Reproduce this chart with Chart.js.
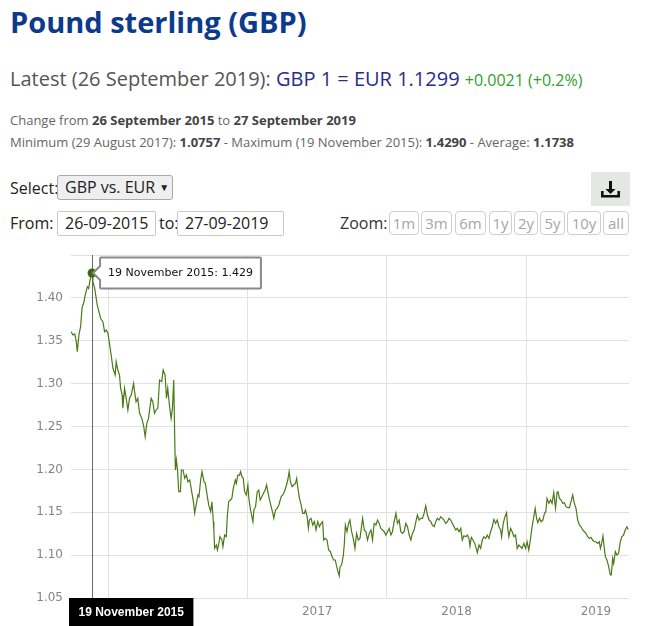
<!DOCTYPE html>
<html>
<head>
<meta charset="utf-8">
<title>Pound sterling (GBP)</title>
<script src="https://cdn.jsdelivr.net/npm/chart.js@4.4.1/dist/chart.umd.min.js"></script>
<style>
    body { margin: 0; width: 647px; height: 626px; overflow: hidden; background: #fff; font-family: "Open Sans", sans-serif; position: relative; }
    .abs { position: absolute; white-space: nowrap; }
    #title { left: 10px; top: 0; font-size: 29px; font-weight: 700; color: #0c3a8d; line-height: 44px; }
    #latest { left: 10px; top: 64px; font-size: 20px; color: #555; line-height: 30px; }
    #latest .pair { color: #2c2c86; }
    #latest .chg { color: #2fa12f; font-size: 16px; }
    .info { left: 10px; font-size: 13px; color: #666; line-height: 18px; }
    .info b { color: #444; }
    .lbl { font-size: 16px; color: #222; line-height: 24px; }
    .box { box-sizing: border-box; border: 1px solid #c8c8c8; border-radius: 2px; font-size: 16px; color: #222; line-height: 22px; padding-left: 7px; }
    #select { left: 57px; top: 175px; width: 116px; height: 25px; background: #efefef; border-color: #a9a9a9; border-radius: 3px; }
    #select span { font-size: 10px; position: relative; top: -2px; margin-left: 4px; }
    .zb { box-sizing: border-box; top: 211px; height: 24px; border: 1px solid #cfcfcf; border-radius: 4px; font-size: 15px; color: #a5a5a5; line-height: 22px; text-align: center; }
    #dl { left: 591px; top: 172px; width: 39px; height: 34px; background: #e3e8e3; }
    #chart-wrap { position: absolute; left: 0; top: 250px; width: 647px; height: 376px; }
</style>
</head>
<body>
<div class="abs" id="title">Pound sterling (GBP)</div>
<div class="abs" id="latest">Latest (26 September 2019): <span class="pair">GBP 1 = EUR 1.1299</span> <span class="chg">+0.0021 (+0.2%)</span></div>
<div class="abs info" style="top:111px">Change from <b>26 September 2015</b> to <b>27 September 2019</b></div>
<div class="abs info" style="top:133px">Minimum (29 August 2017): <b>1.0757</b> - Maximum (19 November 2015): <b>1.4290</b> - Average: <b>1.1738</b></div>

<div class="abs lbl" style="left:10px;top:176px">Select:</div>
<div class="abs box" id="select">GBP vs. EUR<span>&#9660;</span></div>
<div class="abs" id="dl">
    <svg width="39" height="34" viewBox="0 0 39 34">
        <path d="M18 9h3v8h3.5l-5 5-5-5H18z" fill="#111"/>
        <path d="M10 19h2.6v4h13.8v-4H29v6.6H10z" fill="#111"/>
    </svg>
</div>

<div class="abs lbl" style="left:10px;top:211px">From:</div>
<div class="abs box" style="left:57px;top:211px;width:99px;height:25px">26-09-2015</div>
<div class="abs lbl" style="left:159px;top:211px">to:</div>
<div class="abs box" style="left:177px;top:211px;width:107px;height:25px">27-09-2019</div>

<div class="abs lbl" style="left:340px;top:211px;color:#333">Zoom:</div>
<div class="abs zb" style="left:389px;width:30px">1m</div>
<div class="abs zb" style="left:421px;width:31px">3m</div>
<div class="abs zb" style="left:455px;width:31px">6m</div>
<div class="abs zb" style="left:489px;width:23px">1y</div>
<div class="abs zb" style="left:514px;width:24px">2y</div>
<div class="abs zb" style="left:540px;width:25px">5y</div>
<div class="abs zb" style="left:567px;width:34px">10y</div>
<div class="abs zb" style="left:603px;width:26px">all</div>

<div id="chart-wrap"><canvas id="rateChart"></canvas></div>

<script>
// decimal year of each sample
const yearPos = [
    2015.734, 2015.748, 2015.761, 2015.772, 2015.779, 2015.791, 2015.803, 2015.813, 2015.827, 2015.836,
    2015.851, 2015.861, 2015.870, 2015.885, 2015.891, 2015.904, 2015.922, 2015.934, 2015.947, 2015.963,
    2015.975, 2015.987, 2015.999, 2016.008, 2016.022, 2016.035, 2016.051, 2016.058, 2016.070, 2016.082,
    2016.090, 2016.101, 2016.106, 2016.118, 2016.130, 2016.142, 2016.154, 2016.166, 2016.183, 2016.190,
    2016.201, 2016.213, 2016.226, 2016.242, 2016.256, 2016.266, 2016.278, 2016.290, 2016.309, 2016.321,
    2016.333, 2016.344, 2016.357, 2016.369, 2016.385, 2016.395, 2016.409, 2016.419, 2016.428, 2016.440,
    2016.452, 2016.462, 2016.471, 2016.478, 2016.483, 2016.490, 2016.498, 2016.507, 2016.519, 2016.526,
    2016.538, 2016.550, 2016.562, 2016.573, 2016.586, 2016.598, 2016.614, 2016.621, 2016.634, 2016.645,
    2016.652, 2016.664, 2016.674, 2016.688, 2016.698, 2016.712, 2016.722, 2016.736, 2016.745, 2016.755,
    2016.759, 2016.764, 2016.777, 2016.784, 2016.793, 2016.802, 2016.817, 2016.824, 2016.836, 2016.848,
    2016.855, 2016.865, 2016.877, 2016.888, 2016.898, 2016.913, 2016.920, 2016.931, 2016.943, 2016.951,
    2016.960, 2016.970, 2016.979, 2016.991, 2017.003, 2017.010, 2017.022, 2017.039, 2017.046, 2017.058,
    2017.070, 2017.081, 2017.091, 2017.103, 2017.115, 2017.127, 2017.137, 2017.146, 2017.158, 2017.170,
    2017.182, 2017.189, 2017.201, 2017.213, 2017.225, 2017.242, 2017.253, 2017.265, 2017.280, 2017.289,
    2017.299, 2017.308, 2017.320, 2017.332, 2017.344, 2017.353, 2017.360, 2017.373, 2017.385, 2017.396,
    2017.408, 2017.416, 2017.428, 2017.437, 2017.444, 2017.456, 2017.468, 2017.480, 2017.492, 2017.504,
    2017.516, 2017.528, 2017.539, 2017.547, 2017.559, 2017.571, 2017.582, 2017.595, 2017.607, 2017.618,
    2017.630, 2017.640, 2017.658, 2017.664, 2017.675, 2017.688, 2017.695, 2017.702, 2017.714, 2017.725,
    2017.735, 2017.747, 2017.759, 2017.771, 2017.783, 2017.795, 2017.807, 2017.818, 2017.826, 2017.838,
    2017.850, 2017.861, 2017.874, 2017.886, 2017.897, 2017.909, 2017.922, 2017.933, 2017.945, 2017.957,
    2017.969, 2017.981, 2017.993, 2018.005, 2018.017, 2018.029, 2018.040, 2018.052, 2018.065, 2018.076,
    2018.088, 2018.100, 2018.112, 2018.124, 2018.136, 2018.148, 2018.160, 2018.172, 2018.183, 2018.196,
    2018.208, 2018.219, 2018.231, 2018.243, 2018.255, 2018.267, 2018.279, 2018.291, 2018.303, 2018.315,
    2018.326, 2018.339, 2018.351, 2018.362, 2018.374, 2018.387, 2018.398, 2018.410, 2018.422, 2018.434,
    2018.446, 2018.458, 2018.470, 2018.482, 2018.494, 2018.505, 2018.518, 2018.530, 2018.541, 2018.553,
    2018.566, 2018.577, 2018.589, 2018.596, 2018.606, 2018.618, 2018.630, 2018.641, 2018.649, 2018.661,
    2018.673, 2018.684, 2018.696, 2018.709, 2018.720, 2018.732, 2018.744, 2018.756, 2018.768, 2018.780,
    2018.792, 2018.804, 2018.816, 2018.823, 2018.835, 2018.847, 2018.859, 2018.866, 2018.875, 2018.888,
    2018.899, 2018.911, 2018.923, 2018.935, 2018.947, 2018.959, 2018.970, 2018.983, 2018.995, 2019.006,
    2019.018, 2019.031, 2019.042, 2019.054, 2019.064, 2019.074, 2019.083, 2019.095, 2019.106, 2019.119,
    2019.131, 2019.140, 2019.149, 2019.162, 2019.174, 2019.185, 2019.197, 2019.210, 2019.221, 2019.228,
    2019.238, 2019.250, 2019.262, 2019.274, 2019.285, 2019.298, 2019.310, 2019.321, 2019.333, 2019.345,
    2019.357, 2019.369, 2019.381, 2019.393, 2019.405, 2019.417, 2019.428, 2019.441, 2019.453, 2019.464,
    2019.476, 2019.489, 2019.500, 2019.512, 2019.524, 2019.532, 2019.541, 2019.550, 2019.560, 2019.567,
    2019.579, 2019.591, 2019.603, 2019.610, 2019.620, 2019.627, 2019.639, 2019.650, 2019.662, 2019.675,
    2019.686, 2019.698, 2019.710, 2019.722, 2019.732
];

// GBP -> EUR
const rates = [
    1.3606, 1.3567, 1.3580, 1.3490, 1.3372, 1.3570, 1.3664, 1.3880, 1.3955, 1.4033,
    1.4130, 1.4110, 1.4208, 1.4290, 1.4190, 1.4110, 1.3917, 1.3839, 1.3760, 1.3720,
    1.3606, 1.3625, 1.3587, 1.3490, 1.3334, 1.3179, 1.3100, 1.3256, 1.3159, 1.3100,
    1.2945, 1.2867, 1.2712, 1.2945, 1.2829, 1.2692, 1.2829, 1.2867, 1.3004, 1.2906,
    1.2789, 1.2829, 1.2654, 1.2595, 1.2498, 1.2381, 1.2537, 1.2595, 1.2829, 1.2789,
    1.2654, 1.2692, 1.2712, 1.3042, 1.3023, 1.3159, 1.3100, 1.2829, 1.2945, 1.2751,
    1.2595, 1.2712, 1.3042, 1.2381, 1.1993, 1.2110, 1.1993, 1.1740, 1.1740, 1.1993,
    1.1993, 1.1896, 1.1934, 1.1856, 1.1876, 1.1759, 1.1604, 1.1488, 1.1604, 1.1701,
    1.1682, 1.1876, 1.1973, 1.1856, 1.1837, 1.1682, 1.1585, 1.1507, 1.1623, 1.1390,
    1.1293, 1.1080, 1.1118, 1.1060, 1.1118, 1.1215, 1.1176, 1.1099, 1.1235, 1.1215,
    1.1448, 1.1623, 1.1643, 1.1662, 1.1779, 1.1876, 1.1837, 1.1934, 1.1934, 1.1973,
    1.1915, 1.1896, 1.1740, 1.1701, 1.1818, 1.1662, 1.1526, 1.1390, 1.1526, 1.1565,
    1.1740, 1.1759, 1.1643, 1.1682, 1.1721, 1.1759, 1.1818, 1.1740, 1.1643, 1.1565,
    1.1488, 1.1430, 1.1526, 1.1546, 1.1585, 1.1682, 1.1701, 1.1740, 1.1818, 1.1876,
    1.1973, 1.1856, 1.1798, 1.1818, 1.1837, 1.1896, 1.1798, 1.1662, 1.1585, 1.1488,
    1.1488, 1.1526, 1.1448, 1.1312, 1.1409, 1.1429, 1.1351, 1.1390, 1.1293, 1.1390,
    1.1331, 1.1370, 1.1390, 1.1176, 1.1195, 1.1176, 1.1059, 1.1040, 1.0982, 1.0943,
    1.0943, 1.0865, 1.0757, 1.0865, 1.0884, 1.1001, 1.1137, 1.1351, 1.1273, 1.1370,
    1.1409, 1.1273, 1.1195, 1.1079, 1.1254, 1.1176, 1.1195, 1.1331, 1.1429, 1.1293,
    1.1273, 1.1176, 1.1254, 1.1293, 1.1176, 1.1370, 1.1351, 1.1409, 1.1370, 1.1312,
    1.1293, 1.1273, 1.1234, 1.1273, 1.1312, 1.1234, 1.1273, 1.1390, 1.1487, 1.1370,
    1.1409, 1.1273, 1.1254, 1.1273, 1.1370, 1.1331, 1.1234, 1.1176, 1.1254, 1.1293,
    1.1390, 1.1468, 1.1409, 1.1429, 1.1429, 1.1487, 1.1576, 1.1468, 1.1409, 1.1390,
    1.1351, 1.1331, 1.1390, 1.1429, 1.1409, 1.1448, 1.1429, 1.1409, 1.1370, 1.1390,
    1.1429, 1.1409, 1.1370, 1.1331, 1.1293, 1.1312, 1.1273, 1.1312, 1.1176, 1.1225,
    1.1215, 1.1234, 1.1195, 1.1106, 1.1207, 1.1176, 1.1137, 1.1079, 1.1028, 1.1118,
    1.1079, 1.1176, 1.1215, 1.1195, 1.1234, 1.1195, 1.1273, 1.1331, 1.1417, 1.1370,
    1.1409, 1.1331, 1.1293, 1.1215, 1.1370, 1.1448, 1.1495, 1.1331, 1.1215, 1.1312,
    1.1273, 1.1215, 1.1234, 1.1079, 1.1118, 1.1098, 1.1079, 1.1137, 1.1079, 1.1156,
    1.1059, 1.1195, 1.1331, 1.1448, 1.1545, 1.1429, 1.1378, 1.1429, 1.1390, 1.1409,
    1.1487, 1.1506, 1.1662, 1.1604, 1.1643, 1.1604, 1.1728, 1.1545, 1.1732, 1.1740,
    1.1662, 1.1643, 1.1604, 1.1611, 1.1565, 1.1553, 1.1553, 1.1623, 1.1701, 1.1604,
    1.1545, 1.1409, 1.1351, 1.1331, 1.1293, 1.1273, 1.1254, 1.1215, 1.1195, 1.1207,
    1.1176, 1.1156, 1.1156, 1.1137, 1.1156, 1.1079, 1.1137, 1.1223, 1.1079, 1.0982,
    1.0943, 1.0865, 1.0768, 1.0768, 1.0962, 1.0904, 1.1040, 1.1001, 1.1020, 1.1156,
    1.1215, 1.1234, 1.1293, 1.1331, 1.1299
];

const xRange = [2015.734, 2019.737];
const yearLabels = ['2016', '2017', '2018', '2019'];
const yTicks = [1.05, 1.10, 1.15, 1.20, 1.25, 1.30, 1.35, 1.40, 1.45];
const highlightDate = '19 November 2015';

const axisFont = { family: 'DejaVu Sans', size: 12 };
const gridColor = '#e1e1e1';

let rateChart = null;

function buildXTicks() {
    // gridlines on the year boundaries, labels in the middle of each year
    const ticks = [];
    yearLabels.forEach((y) => {
        ticks.push({ value: Number(y) });
        ticks.push({ value: Number(y) + 0.5 });
    });
    return ticks;
}

function peakIndex() {
    return rates.indexOf(Math.max(...rates));
}

const crosshairPlugin = {
    id: 'crosshair',
    beforeDatasetsDraw(chart) {
        const pt = chart.getDatasetMeta(0).data[peakIndex()];
        const { ctx, chartArea } = chart;
        if (!pt) return;
        const x = Math.round(pt.x) + 0.5;
        ctx.save();
        ctx.strokeStyle = '#6a6a6a';
        ctx.lineWidth = 1;
        ctx.beginPath();
        ctx.moveTo(x, chartArea.top);
        ctx.lineTo(x, chartArea.bottom);
        ctx.stroke();
        ctx.restore();
    },
    afterDraw(chart) {
        const pt = chart.getDatasetMeta(0).data[peakIndex()];
        const { ctx, chartArea } = chart;
        if (!pt) return;
        ctx.save();
        ctx.font = 'bold 12px "Liberation Sans", sans-serif';
        const w = ctx.measureText(highlightDate).width + 19;
        const left = Math.max(chartArea.left - 2, pt.x - w / 2);
        ctx.fillStyle = '#000';
        ctx.fillRect(left, chartArea.bottom, w, 28);
        ctx.fillStyle = '#fff';
        ctx.textAlign = 'center';
        ctx.textBaseline = 'middle';
        ctx.fillText(highlightDate, left + w / 2, chartArea.bottom + 15);
        ctx.restore();
    }
};

function renderRateChart() {
    const canvas = document.getElementById('rateChart');
    if (!canvas) return;
    if (rateChart) rateChart.destroy();

    const points = yearPos.map((t, i) => ({ x: t, y: rates[i] }));

    rateChart = new Chart(canvas.getContext('2d'), {
        type: 'line',
        data: {
            datasets: [{
                label: 'GBP vs. EUR',
                data: points,
                borderColor: '#4a7a18',
                borderWidth: 1.2,
                pointRadius: 0,
                pointHoverRadius: 4.5,
                pointHoverBackgroundColor: '#3b6a0e',
                pointHoverBorderWidth: 0,
                tension: 0,
                fill: false
            }]
        },
        options: {
            responsive: true,
            maintainAspectRatio: false,
            animation: false,
            events: [],
            layout: { padding: { top: 5, right: 18, left: 0, bottom: 0 } },
            plugins: {
                legend: { display: false },
                tooltip: {
                    xAlign: 'left',
                    yAlign: 'center',
                    backgroundColor: '#fff',
                    borderColor: '#8a8a8a',
                    borderWidth: 2,
                    cornerRadius: 1,
                    bodyColor: '#111',
                    bodyFont: { family: 'DejaVu Sans', size: 11 },
                    padding: { left: 8, right: 8, top: 9, bottom: 9 },
                    caretSize: 7,
                    caretPadding: 1,
                    displayColors: false,
                    callbacks: {
                        title: () => '',
                        label: (ctx) => `${highlightDate}: ${ctx.parsed.y}`
                    }
                }
            },
            scales: {
                x: {
                    type: 'linear',
                    min: xRange[0],
                    max: xRange[1],
                    afterBuildTicks: (scale) => { scale.ticks = buildXTicks(); },
                    afterFit: (scale) => {
                        scale.height = 28;
                        scale.paddingLeft = 0;
                        scale.paddingRight = 0;
                    },
                    border: { display: false },
                    grid: {
                        drawTicks: false,
                        color: (c) => (c.tick && c.tick.value % 1 === 0 ? gridColor : 'rgba(0,0,0,0)')
                    },
                    ticks: {
                        autoSkip: false,
                        maxRotation: 0,
                        padding: 7,
                        color: '#858585',
                        font: axisFont,
                        callback: (v) => (v % 1 ? String(Math.floor(v)) : '')
                    }
                },
                y: {
                    min: yTicks[0],
                    max: yTicks[yTicks.length - 1],
                    afterBuildTicks: (scale) => { scale.ticks = yTicks.map((v) => ({ value: v })); },
                    afterFit: (scale) => {
                        scale.width = 71;
                        scale.paddingTop = 0;
                        scale.paddingBottom = 0;
                    },
                    border: { display: false },
                    grid: { drawTicks: false, color: gridColor },
                    ticks: {
                        padding: 8,
                        color: '#858585',
                        font: axisFont,
                        callback: (v) => (v > 1.449 ? '' : Number(v).toFixed(2))
                    }
                }
            }
        },
        plugins: [crosshairPlugin]
    });

    const active = [{ datasetIndex: 0, index: peakIndex() }];
    rateChart.setActiveElements(active);
    rateChart.tooltip.setActiveElements(active, { x: 0, y: 0 });
    rateChart.update();
}

renderRateChart();
</script>
</body>
</html>
